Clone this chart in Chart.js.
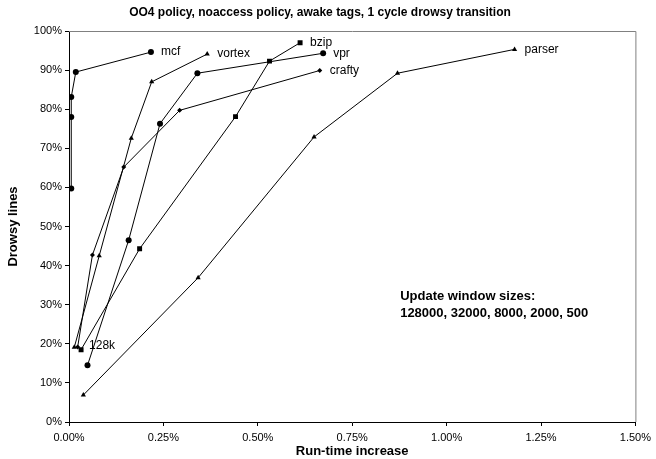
<!DOCTYPE html>
<html>
<head>
<meta charset="utf-8">
<script src="https://cdn.jsdelivr.net/npm/chart.js@4.4.0/dist/chart.umd.min.js"></script>
<style>
  html, body { margin: 0; padding: 0; background: #fff; }
  .chart-wrapper { width: 656px; height: 459px; }
</style>
</head>
<body>
<div class="chart-wrapper"><canvas id="drowsyChart"></canvas></div>
<script>
// --- Data: each curve goes through update windows 128000, 32000, 8000, 2000, 500 ---
const windowSizes = ['128000', '32000', '8000', '2000', '500'];

// run-time increase (%) and drowsy lines (%) per benchmark
const mcfX    = [0.006, 0.006, 0.006, 0.018, 0.217];
const mcfY    = [59.7, 78.0, 83.1, 89.5, 94.6];
const vortexX = [0.014, 0.080, 0.165, 0.219, 0.366];
const vortexY = [19.1, 42.5, 72.6, 87.0, 94.1];
const bzipX   = [0.032, 0.187, 0.441, 0.531, 0.612];
const bzipY   = [18.5, 44.3, 78.1, 92.3, 97.0];
const vprX    = [0.049, 0.158, 0.241, 0.340, 0.673];
const vprY    = [14.5, 46.5, 76.3, 89.2, 94.3];
const craftyX = [0.023, 0.062, 0.145, 0.293, 0.664];
const craftyY = [19.2, 42.7, 65.2, 79.7, 89.9];
const parserX = [0.038, 0.342, 0.649, 0.870, 1.180];
const parserY = [6.9, 36.9, 72.9, 89.2, 95.3];

// axis ranges / ticks
const xTicks = [0, 0.25, 0.5, 0.75, 1.0, 1.25, 1.5];
const yTicks = [0, 10, 20, 30, 40, 50, 60, 70, 80, 90, 100];

const noteLines = ['Update window sizes:', windowSizes.join(', ')];
const firstWindowLabel = '128k';

// --- helper: zip x/y arrays into scatter points ---
function toPoints(xs, ys) {
    return xs.map((x, i) => ({ x: x, y: ys[i] }));
}

function makeSeries(label, xs, ys, style, radius) {
    return {
        label: label,
        data: toPoints(xs, ys),
        showLine: true,
        borderColor: '#000',
        borderWidth: 1,
        backgroundColor: '#000',
        pointStyle: style,
        pointRadius: radius,
        pointBorderWidth: 0,
        pointBackgroundColor: '#000',
        tension: 0
    };
}

// --- plugin: top/right frame, series names, note text ---
const chartText = {
    id: 'chartText',
    beforeDatasetsDraw(chart) {
        const a = chart.chartArea;
        const ctx = chart.ctx;
        ctx.save();
        ctx.strokeStyle = '#808080';
        ctx.lineWidth = 1;
        ctx.beginPath();
        ctx.moveTo(a.left, a.top + 0.5);
        ctx.lineTo(a.right + 0.5, a.top + 0.5);
        ctx.lineTo(a.right + 0.5, a.bottom);
        ctx.stroke();
        ctx.restore();
    },
    afterDatasetsDraw(chart) {
        const ctx = chart.ctx;
        const xs = chart.scales.x;
        const ys = chart.scales.y;
        ctx.save();
        ctx.fillStyle = '#000';
        ctx.textBaseline = 'middle';
        ctx.textAlign = 'left';
        ctx.font = '12px "Liberation Sans", Arial, sans-serif';

        // name next to the last (500) point of each curve
        chart.data.datasets.forEach((ds, i) => {
            const pts = chart.getDatasetMeta(i).data;
            const last = pts[pts.length - 1];
            ctx.fillText(ds.label, last.x + 10, last.y);
        });

        // "128k" next to the first bzip point
        const bz = chart.getDatasetMeta(2).data[0];
        ctx.fillText(firstWindowLabel, bz.x + 8, bz.y - 4);

        // note
        ctx.font = 'bold 13px "Liberation Sans", Arial, sans-serif';
        const nx = xs.getPixelForValue(0.877);
        const ny = ys.getPixelForValue(32);
        noteLines.forEach((t, i) => ctx.fillText(t, nx, ny + i * 17));
        ctx.restore();
    }
};

Chart.defaults.font.family = '"Liberation Sans", Arial, sans-serif';
Chart.defaults.color = '#000';

const ctx = document.getElementById('drowsyChart');
new Chart(ctx, {
    type: 'scatter',
    data: {
        datasets: [
            makeSeries('mcf', mcfX, mcfY, 'circle', 3),
            makeSeries('vortex', vortexX, vortexY, 'triangle', 3),
            makeSeries('bzip', bzipX, bzipY, 'rect', 3.5),
            makeSeries('vpr', vprX, vprY, 'circle', 3),
            makeSeries('crafty', craftyX, craftyY, 'rectRot', 2.5),
            makeSeries('parser', parserX, parserY, 'triangle', 3)
        ]
    },
    options: {
        responsive: true,
        maintainAspectRatio: false,
        animation: false,
        devicePixelRatio: 1,
        layout: { padding: { left: 0, right: 16, top: 0, bottom: 0 } },
        plugins: {
            legend: { display: false },
            tooltip: { enabled: false },
            title: {
                display: true,
                text: 'OO4 policy, noaccess policy, awake tags, 1 cycle drowsy transition',
                font: { size: 12, weight: 'bold', lineHeight: 1.2 },
                color: '#000',
                padding: { top: 5, bottom: 11.6 }
            }
        },
        scales: {
            x: {
                type: 'linear',
                min: xTicks[0],
                max: xTicks[xTicks.length - 1],
                afterBuildTicks: (scale) => { scale.ticks = xTicks.map(v => ({ value: v })); },
                afterFit: (scale) => { scale.height = 37; },
                ticks: {
                    font: { size: 11 },
                    color: '#000',
                    padding: 5,
                    maxRotation: 0,
                    callback: (v) => v.toFixed(2) + '%'
                },
                grid: { drawOnChartArea: false, drawTicks: true, tickLength: 4, color: '#000' },
                border: { display: true, color: '#000', width: 1 },
                title: {
                    display: true,
                    text: 'Run-time increase',
                    font: { size: 13, weight: 'bold' },
                    color: '#000',
                    padding: 0
                }
            },
            y: {
                type: 'linear',
                min: yTicks[0],
                max: yTicks[yTicks.length - 1],
                afterBuildTicks: (scale) => { scale.ticks = yTicks.map(v => ({ value: v })); },
                afterFit: (scale) => { scale.width = 69; },
                ticks: {
                    font: { size: 11 },
                    color: '#000',
                    padding: 3,
                    callback: (v) => v + '%'
                },
                grid: { drawOnChartArea: false, drawTicks: true, tickLength: 4, color: '#000' },
                border: { display: true, color: '#000', width: 1 },
                title: {
                    display: true,
                    text: 'Drowsy lines',
                    font: { size: 13, weight: 'bold' },
                    color: '#000',
                    padding: { top: 6, bottom: 0 }
                }
            }
        }
    },
    plugins: [chartText]
});
</script>
</body>
</html>
